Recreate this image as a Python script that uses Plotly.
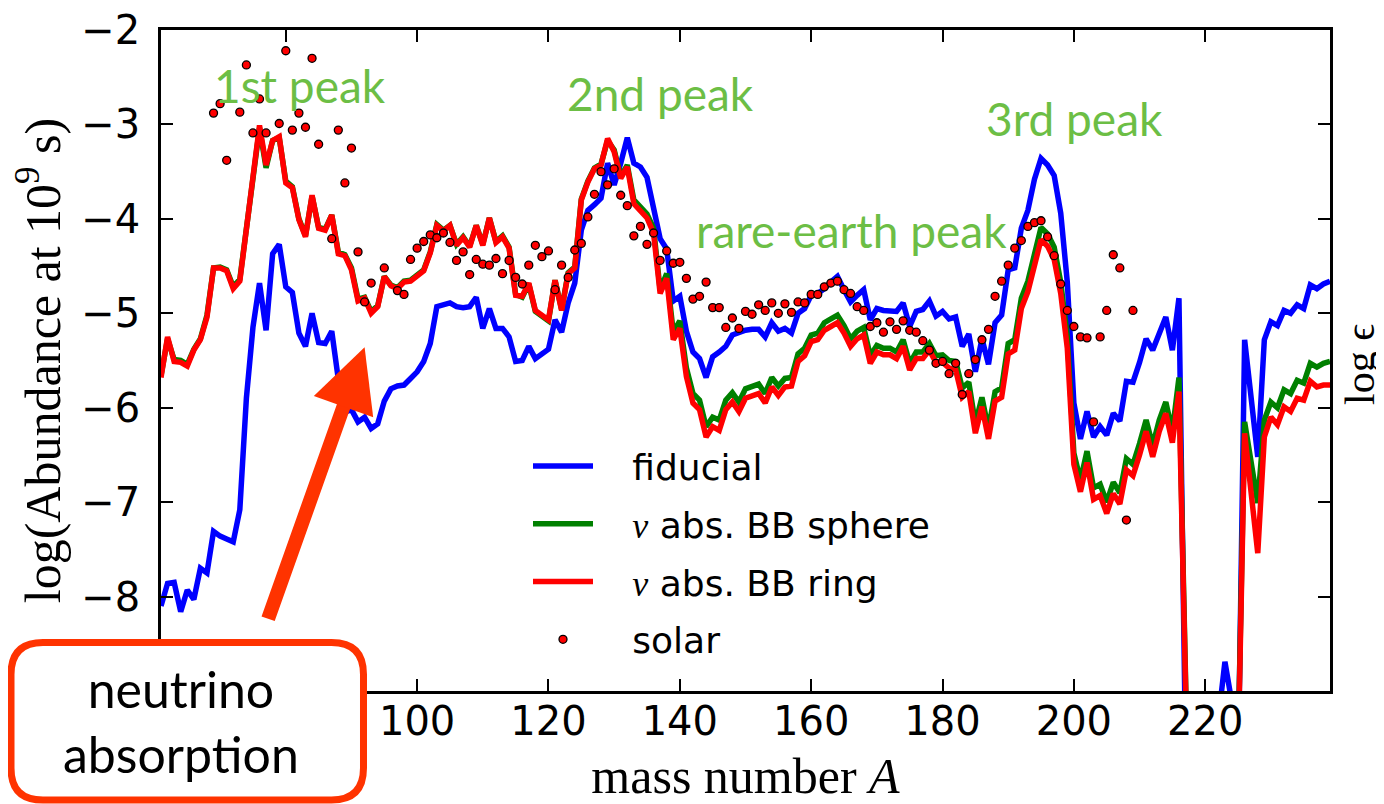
import plotly.graph_objects as go

# mass numbers A = 61 ... 239
mass = list(range(61, 240))

fiducial = [
    -8.10, -7.86, -7.85, -8.16, -7.93, -8.03, -7.70, -7.75, -7.31, -7.36,  # 61-70
    -7.39, -7.42, -7.08, -5.90, -5.15, -4.68, -5.18, -4.37, -4.27, -4.72,  # 71-80
    -4.78, -5.21, -5.35, -5.00, -5.31, -5.32, -5.19, -5.70, -6.05, -6.02,  # 81-90
    -6.15, -6.10, -6.22, -6.17, -5.93, -5.80, -5.77, -5.76, -5.69, -5.62,  # 91-100
    -5.51, -5.32, -4.93, -4.91, -4.89, -4.93, -4.94, -4.93, -4.83, -5.16,  # 101-110
    -4.95, -5.16, -5.16, -5.25, -5.51, -5.50, -5.35, -5.48, -5.43, -5.38,  # 111-120
    -5.07, -5.20, -4.89, -4.68, -4.12, -3.91, -3.85, -3.78, -3.41, -3.64,  # 121-130
    -3.41, -3.14, -3.41, -3.45, -3.56, -3.86, -4.21, -4.32, -4.87, -4.82,  # 131-140
    -5.19, -5.41, -5.48, -5.68, -5.46, -5.41, -5.35, -5.23, -5.20, -5.18,  # 141-150
    -5.17, -5.17, -5.25, -5.10, -5.19, -5.16, -5.21, -5.00, -4.95, -4.81,  # 151-160
    -4.79, -4.74, -4.67, -4.61, -4.75, -4.88, -4.81, -4.75, -5.07, -4.95,  # 161-170
    -4.97, -4.97, -4.98, -4.89, -5.14, -4.98, -4.96, -4.87, -5.03, -4.98,  # 171-180
    -5.06, -5.04, -5.35, -5.22, -5.62, -5.27, -5.54, -5.10, -5.02, -4.54,  # 181-190
    -4.52, -4.10, -3.91, -3.58, -3.36, -3.43, -3.54, -3.94, -4.67, -5.95,  # 191-200
    -6.33, -6.04, -6.31, -6.20, -6.29, -6.06, -6.14, -5.72, -5.73, -5.52,  # 201-210
    -5.27, -5.39, -5.20, -5.04, -5.39, -4.84, -9.60, -12.0, -12.0, -12.0,  # 211-220
    -12.0, -9.30, -8.69, -9.10, -9.90, -5.28, -5.90, -6.52, -5.28, -5.09,  # 221-230
    -5.13, -4.97, -5.00, -4.91, -4.95, -4.70, -4.74, -4.69, -4.66,         # 231-239
]

bb_sphere = [
    -5.66, -5.27, -5.49, -5.50, -5.54, -5.38, -5.27, -5.02, -4.52, -4.51,
    -4.54, -4.72, -4.64, -4.07, -3.53, -3.04, -3.46, -3.17, -3.14, -3.60,
    -3.66, -4.00, -4.18, -3.76, -4.09, -4.11, -3.96, -4.35, -4.38, -4.52,
    -4.85, -4.83, -4.98, -4.92, -4.61, -4.70, -4.73, -4.66, -4.65, -4.59,
    -4.54, -4.35, -4.06, -4.12, -4.07, -4.27, -4.19, -4.29, -4.07, -4.27,
    -3.99, -4.24, -4.18, -4.30, -4.80, -4.83, -4.69, -4.98, -5.03, -5.08,
    -4.65, -4.96, -4.57, -4.51, -3.79, -3.60, -3.46, -3.42, -3.17, -3.27,
    -3.55, -3.43, -3.80, -3.88, -3.95, -4.10, -4.75, -4.58, -5.20, -5.08,
    -5.58, -5.85, -5.92, -6.20, -6.10, -6.13, -5.92, -5.84, -5.94, -5.80,
    -5.77, -5.75, -5.85, -5.68, -5.77, -5.69, -5.68, -5.43, -5.37, -5.23,
    -5.21, -5.10, -5.06, -5.02, -5.13, -5.27, -5.19, -5.15, -5.45, -5.34,
    -5.37, -5.37, -5.41, -5.28, -5.53, -5.41, -5.41, -5.32, -5.45, -5.44,
    -5.50, -5.51, -5.79, -5.73, -6.17, -5.89, -6.23, -5.83, -5.79, -5.32,
    -5.28, -4.84, -4.66, -4.40, -4.09, -4.16, -4.30, -4.67, -5.25, -6.48,
    -6.77, -6.46, -6.85, -6.81, -7.00, -6.79, -6.90, -6.54, -6.60, -6.38,
    -6.13, -6.40, -6.13, -5.94, -6.25, -5.68, -11.0, -12.0, -12.0, -12.0,
    -12.0, -12.0, -12.0, -11.0, -9.60, -6.15, -6.58, -7.01, -6.13, -5.94,
    -6.00, -5.81, -5.85, -5.71, -5.74, -5.53, -5.57, -5.53, -5.51,
]

bb_ring = [
    -5.68, -5.25, -5.51, -5.52, -5.56, -5.39, -5.28, -5.04, -4.52, -4.52,
    -4.55, -4.74, -4.66, -4.08, -3.52, -3.01, -3.43, -3.17, -3.13, -3.62,
    -3.67, -4.01, -4.19, -3.75, -4.10, -4.12, -3.96, -4.37, -4.39, -4.54,
    -4.87, -4.84, -5.00, -4.93, -4.61, -4.71, -4.74, -4.67, -4.66, -4.60,
    -4.55, -4.36, -4.07, -4.13, -4.07, -4.28, -4.20, -4.30, -4.07, -4.28,
    -3.99, -4.25, -4.19, -4.31, -4.81, -4.82, -4.68, -4.97, -5.02, -5.07,
    -4.65, -4.97, -4.58, -4.52, -3.80, -3.61, -3.47, -3.43, -3.15, -3.29,
    -3.57, -3.45, -3.84, -3.91, -3.99, -4.15, -4.79, -4.63, -5.28, -5.16,
    -5.67, -5.95, -6.02, -6.31, -6.20, -6.24, -6.02, -5.94, -6.04, -5.90,
    -5.87, -5.85, -5.95, -5.78, -5.87, -5.78, -5.77, -5.51, -5.45, -5.30,
    -5.28, -5.18, -5.14, -5.10, -5.21, -5.35, -5.27, -5.23, -5.53, -5.41,
    -5.44, -5.44, -5.48, -5.35, -5.60, -5.48, -5.48, -5.39, -5.52, -5.52,
    -5.58, -5.60, -5.89, -5.83, -6.27, -5.99, -6.33, -5.93, -5.89, -5.43,
    -5.39, -4.95, -4.77, -4.52, -4.22, -4.29, -4.43, -4.79, -5.37, -6.60,
    -6.89, -6.58, -6.97, -6.93, -7.12, -6.91, -7.02, -6.66, -6.72, -6.50,
    -6.25, -6.52, -6.25, -6.06, -6.37, -5.83, -11.0, -12.0, -12.0, -12.0,
    -12.0, -12.0, -12.0, -11.0, -9.70, -6.27, -6.90, -7.54, -6.31, -6.10,
    -6.18, -5.99, -6.04, -5.90, -5.92, -5.72, -5.78, -5.76, -5.76,
]

solar_a = [69, 70, 71, 73, 74, 75, 76, 77, 79, 80, 81, 82, 83, 84, 85, 87, 88,
           89, 90, 91, 92, 93, 95, 97, 98] + list(range(99, 210))
solar = [
    -2.88, -2.78, -3.38, -2.87, -2.37, -3.09, -2.73, -3.09, -2.99, -2.22,
    -3.06, -2.88, -3.03, -2.30, -3.21, -4.21, -3.06, -3.62, -3.25, -4.35,
    -4.88, -4.68, -4.52, -4.76, -4.80,
    -4.43, -4.31, -4.24, -4.17, -4.20, -4.15, -4.25, -4.44, -4.35, -4.59,  # 99-108
    -4.43, -4.48, -4.49, -4.42, -4.58, -4.44, -4.62, -4.69, -4.49, -4.28,  # 109-118
    -4.40, -4.34, -4.75, -4.49, -4.62, -4.33, -4.26, -3.98, -3.74, -3.50,  # 119-128
    -3.64, -3.47, -3.75, -3.86, -4.18, -4.08, -4.27, -4.15, -4.44, -4.34,  # 129-138
    -4.47, -4.46, -4.63, -4.85, -4.82, -4.67, -4.94, -4.94, -5.15, -5.05,  # 139-148
    -5.16, -4.98, -5.01, -4.91, -4.97, -4.89, -5.00, -4.90, -4.99, -4.88,  # 149-158
    -4.89, -4.80, -4.80, -4.72, -4.68, -4.66, -4.75, -4.79, -4.93, -4.97,  # 159-168
    -5.14, -5.10, -5.20, -5.09, -5.17, -5.08, -5.18, -5.20, -5.29, -5.39,  # 169-178
    -5.53, -5.51, -5.64, -5.53, -5.86, -5.64, -5.49, -5.28, -5.17, -4.82,  # 179-188
    -4.66, -4.49, -4.31, -4.23, -4.08, -4.04, -4.02, -4.19, -4.39, -4.69,  # 189-198
    -4.97, -5.14, -5.25, -5.26, -6.15, -5.25, -4.97, -4.38, -4.52, -7.19,  # 199-208
    -4.97,                                                                 # 209
]

# tick positions; the 80 and -9 labels sit under the annotation box
x_ticks = [80, 100, 120, 140, 160, 180, 200, 220]
x_ticktext = ["", "100", "120", "140", "160", "180", "200", "220"]
y_ticks = [-9, -8, -7, -6, -5, -4, -3, -2]
y_ticktext = ["", "−8", "−7", "−6", "−5", "−4", "−3", "−2"]

peak_labels = ["1st peak", "2nd peak", "rare-earth peak", "3rd peak"]

# the page body has an 8px margin, so the figure is made 8px smaller and
# everything below is given in page pixels
OFF = 8
W, H = 1384 - OFF, 804 - OFF
L, R, T, B = 161, 1330, 30, 691   # plot area in page pixels


def px(x, y):
    """page pixel position -> paper coordinates"""
    return (x - L) / (R - L), (B - y) / (B - T)


nu = "<i style='font-family:Liberation Serif'>ν</i>"
gap = "\u00a0\u00a0\u00a0"

fig = go.Figure()
fig.add_trace(go.Scatter(x=mass, y=fiducial, mode="lines", name=gap + "fiducial",
                         legendgroup="a", line=dict(color="#0000FF", width=5.5)))
fig.add_trace(go.Scatter(x=mass, y=bb_sphere, mode="lines", legendgroup="b",
                         name=gap + nu + " abs. BB sphere",
                         line=dict(color="#008000", width=5.5)))
fig.add_trace(go.Scatter(x=mass, y=bb_ring, mode="lines", legendgroup="c",
                         name=gap + nu + " abs. BB ring",
                         line=dict(color="#FF0000", width=5.5)))
fig.add_trace(go.Scatter(x=solar_a, y=solar, mode="markers", name=gap + "solar",
                         legendgroup="d",
                         marker=dict(color="#FF0000", size=8,
                                     line=dict(color="black", width=1.3))))

axis = dict(showline=True, linecolor="black", linewidth=2.5, mirror="ticks",
            ticks="inside", ticklen=12, tickwidth=1.5, tickcolor="black",
            showgrid=False, zeroline=False, automargin=False,
            ticklabeloverflow="allow",
            tickfont=dict(family="DejaVu Sans", size=40, color="black"))

# peak labels
label_pos = [(300, 85), (660, 93), (851, 231), (1074, 119)]
annotations = []
for text, (x, y) in zip(peak_labels, label_pos):
    xp, yp = px(x, y)
    annotations.append(dict(x=xp, y=yp, xref="paper", yref="paper", text=text,
                            showarrow=False, xanchor="center", yanchor="middle",
                            font=dict(family="Lato", size=46, color="#6CBE45")))

# right-hand label
xp, yp = px(1360, 365)
annotations.append(dict(x=xp, y=yp, xref="paper", yref="paper", text="log ϵ",
                        showarrow=False, textangle=-90,
                        xanchor="center", yanchor="middle",
                        font=dict(family="Liberation Serif", size=42, color="black")))

# arrow towards the drop of the 1st peak
annotations.append(dict(x=92.0, y=-5.36, xref="x", yref="y", ax=-97, ay=273,
                        text="", showarrow=True, arrowhead=2, arrowsize=0.9,
                        arrowwidth=14, arrowcolor="#FF3300"))

# text inside the box
xp, yp = px(181, 721)
annotations.append(dict(x=xp, y=yp, xref="paper", yref="paper",
                        text="neutrino<br>absorption", showarrow=False,
                        xanchor="center", yanchor="middle",
                        font=dict(family="Lato", size=50, color="black")))

# rounded box
x0, x1, y0, y1, r = 11, 363.5, 642.5, 800, 32
pts = [("M", x0, y1 - r), ("L", x0, y0 + r), ("Q", x0, y0, x0 + r, y0),
       ("L", x1 - r, y0), ("Q", x1, y0, x1, y0 + r), ("L", x1, y1 - r),
       ("Q", x1, y1, x1 - r, y1), ("L", x0 + r, y1), ("Q", x0, y1, x0, y1 - r)]
path = ""
for p in pts:
    cmd, coords = p[0], p[1:]
    seg = []
    for i in range(0, len(coords), 2):
        a, b = px(coords[i], coords[i + 1])
        seg.append(f"{a:.5f},{b:.5f}")
    path += cmd + " ".join(seg) + " "
path += "Z"

fig.update_layout(
    width=W, height=H,
    margin=dict(l=L - OFF, r=W - (R - OFF), t=T - OFF, b=H - (B - OFF)),
    paper_bgcolor="white", plot_bgcolor="white",
    xaxis=dict(axis, range=[61, 239], tickvals=x_ticks, ticktext=x_ticktext,
               ticklabelstandoff=-7,
               title=dict(text="mass number <i>A</i>", standoff=35,
                          font=dict(family="Liberation Serif", size=50, color="black"))),
    yaxis=dict(axis, range=[-9, -2], tickvals=y_ticks, ticktext=y_ticktext,
               ticklabelstandoff=10,
               title=dict(text="log(Abundance at 10<sup>9</sup> s)", standoff=14,
                          font=dict(family="Liberation Serif", size=50, color="black"))),
    legend=dict(x=px(528, 0)[0], y=px(0, 436)[1], xanchor="left", yanchor="top",
                bgcolor="rgba(0,0,0,0)", itemwidth=60, tracegroupgap=8,
                font=dict(family="DejaVu Sans", size=36, color="black")),
    shapes=[dict(type="path", path=path, xref="paper", yref="paper",
                 line=dict(color="#FF3300", width=7), fillcolor="white",
                 layer="above")],
    annotations=annotations,
    showlegend=True,
)

fig.write_html("out.html")
